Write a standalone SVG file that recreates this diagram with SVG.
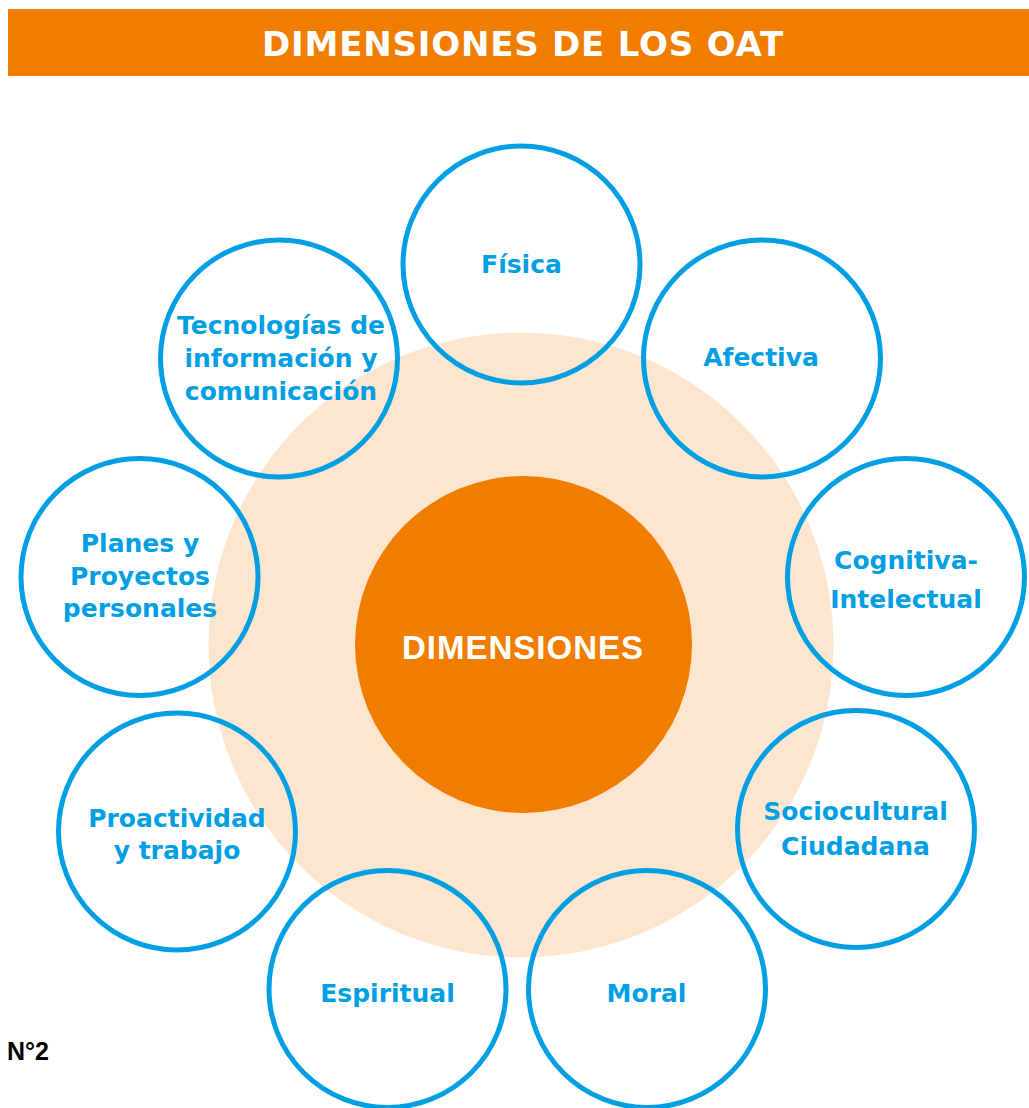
<svg xmlns="http://www.w3.org/2000/svg" width="1029" height="1108" viewBox="0 0 1029 1108">
  <style>
    .ring { fill: none; stroke: #009FE3; stroke-width: 5; }
    .lbl { font-family: "DejaVu Sans", "Liberation Sans", sans-serif; font-weight: bold; font-size: 25px; fill: #009FE3; text-anchor: middle; }
    .title { font-family: "DejaVu Sans", "Liberation Sans", sans-serif; font-weight: bold; font-size: 34px; fill: #FFFFFF; text-anchor: middle; letter-spacing: 0.8px; }
    .center { font-family: "Liberation Sans", Arial, sans-serif; font-weight: bold; font-size: 33px; fill: #FFFFFF; text-anchor: middle; letter-spacing: 1px; }
  </style>
  <rect x="0" y="0" width="1029" height="1108" fill="#FFFFFF"/>
  <g id="header">
    <rect x="8" y="9" width="1021" height="67" fill="#F07D00"/>
    <text class="title" x="523" y="56">DIMENSIONES DE LOS OAT</text>
  </g>
  <g id="halo">
    <circle cx="521" cy="645" r="312.5" fill="#FDE6CF"/>
  </g>
  <g id="connectors"></g>
  <g id="dimensiones">
    <circle cx="523.5" cy="644.5" r="168.5" fill="#F07D00"/>
    <text class="center" x="523" y="659">DIMENSIONES</text>
  </g>
  <g id="fisica">
    <circle class="ring" cx="521.5" cy="264.5" r="118.5"/>
    <text class="lbl" x="521.5" y="273">Física</text>
  </g>
  <g id="afectiva">
    <circle class="ring" cx="762" cy="358.5" r="118.5"/>
    <text class="lbl" x="761" y="366">Afectiva</text>
  </g>
  <g id="cognitiva">
    <circle class="ring" cx="906" cy="577" r="118.5"/>
    <text class="lbl" x="906" y="569">Cognitiva-</text>
    <text class="lbl" x="906" y="608">Intelectual</text>
  </g>
  <g id="sociocultural">
    <circle class="ring" cx="856" cy="829" r="118.5"/>
    <text class="lbl" x="855.5" y="820">Sociocultural</text>
    <text class="lbl" x="855.5" y="855">Ciudadana</text>
  </g>
  <g id="moral">
    <circle class="ring" cx="647" cy="989" r="118.5"/>
    <text class="lbl" x="646.5" y="1002">Moral</text>
  </g>
  <g id="espiritual">
    <circle class="ring" cx="387.5" cy="989" r="118.5"/>
    <text class="lbl" x="387.5" y="1002">Espiritual</text>
  </g>
  <g id="proactividad">
    <circle class="ring" cx="177" cy="831.5" r="118.5"/>
    <text class="lbl" x="177" y="827">Proactividad</text>
    <text class="lbl" x="177" y="859">y trabajo</text>
  </g>
  <g id="planes">
    <circle class="ring" cx="139.5" cy="577" r="118.5"/>
    <text class="lbl" x="140" y="552">Planes y</text>
    <text class="lbl" x="140" y="585">Proyectos</text>
    <text class="lbl" x="140" y="617">personales</text>
  </g>
  <g id="tecnologias">
    <circle class="ring" cx="279" cy="358.5" r="118.5"/>
    <text class="lbl" x="281" y="334">Tecnologías de</text>
    <text class="lbl" x="281" y="367">información y</text>
    <text class="lbl" x="281" y="400">comunicación</text>
  </g>
  <g id="numero">
    <text x="7" y="1060" font-family="Liberation Sans, Arial, sans-serif" font-weight="bold" font-size="25" fill="#000000">N°2</text>
  </g>
</svg>
